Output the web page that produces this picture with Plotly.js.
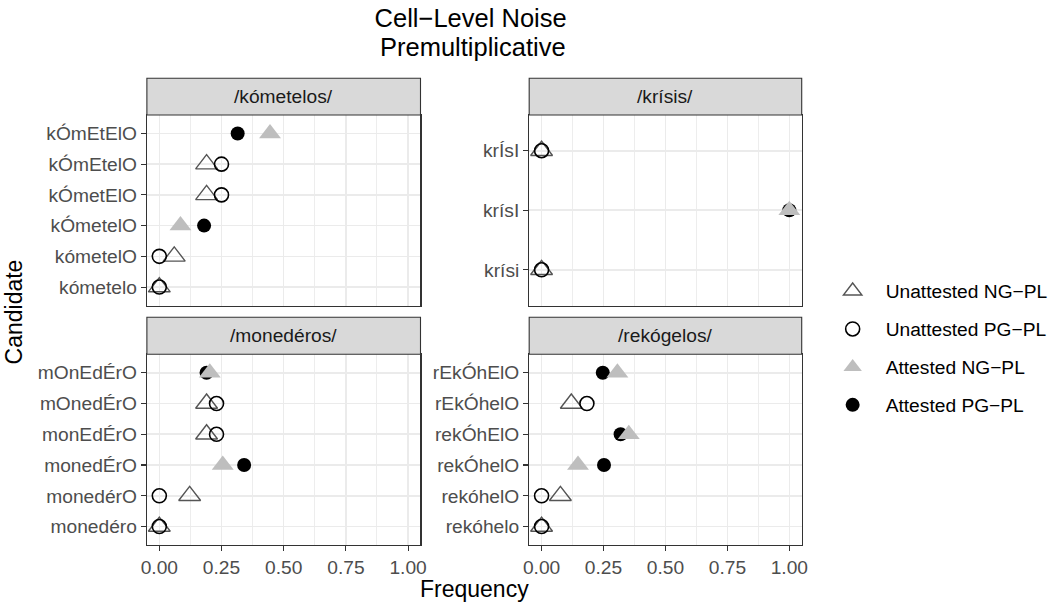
<!DOCTYPE html>
<html>
<head>
<meta charset="utf-8">
<script src="https://cdn.plot.ly/plotly-3.0.1.min.js"></script>
<style>html,body{margin:0;padding:0;background:#fff;}#chart{width:1053px;height:606px;}</style>
</head>
<body>
<div id="chart"></div>
<script>
// ---------- data (top-to-bottom order of candidates) ----------
const words = ['/kómetelos/', '/krísis/', '/monedéros/', '/rekógelos/'];

const kometelosCands = ['kÓmEtElO','kÓmEtelO','kÓmetElO','kÓmetelO','kómetelO','kómetelo'];
const kometelosUnattNG = [null, 0.19, 0.19, null, 0.06, 0];
const kometelosUnattPG = [null, 0.25, 0.25, null, 0, 0];
const kometelosAttNG   = [0.445, null, null, 0.085, null, null];
const kometelosAttPG   = [0.315, null, null, 0.18, null, null];

const krisisCands = ['krÍsI','krísI','krísi'];
const krisisUnattNG = [0, null, 0];
const krisisUnattPG = [0, null, 0];
const krisisAttNG   = [null, 1, null];
const krisisAttPG   = [null, 1, null];

const monederosCands = ['mOnEdÉrO','mOnedÉrO','monEdÉrO','monedÉrO','monedérO','monedéro'];
const monederosUnattNG = [null, 0.19, 0.19, null, 0.122, 0];
const monederosUnattPG = [null, 0.23, 0.23, null, 0, 0];
const monederosAttNG   = [0.203, null, null, 0.255, null, null];
const monederosAttPG   = [0.19, null, null, 0.341, null, null];

const rekogelosCands = ['rEkÓhElO','rEkÓhelO','rekÓhElO','rekÓhelO','rekóhelO','rekóhelo'];
const rekogelosUnattNG = [null, 0.12, null, null, 0.076, 0];
const rekogelosUnattPG = [null, 0.183, null, null, 0, 0];
const rekogelosAttNG   = [0.306, null, 0.352, 0.147, null, null];
const rekogelosAttPG   = [0.247, null, 0.319, 0.252, null, null];

const seriesNames = ['Unattested NG−PL', 'Unattested PG−PL', 'Attested NG−PL', 'Attested PG−PL'];
const xTickVals = [0, 0.25, 0.5, 0.75, 1];
const xTickText = ['0.00', '0.25', '0.50', '0.75', '1.00'];

// ---------- layout helpers ----------
const W = 1053, H = 606;
const px = x => x / W;
const py = y => 1 - y / H;
const FONT = '"Liberation Sans", Arial, Helvetica, sans-serif';
const TXT = 19.2;

const panels = [
  {cands: kometelosCands, vals: [kometelosUnattNG, kometelosUnattPG, kometelosAttNG, kometelosAttPG]},
  {cands: krisisCands,    vals: [krisisUnattNG, krisisUnattPG, krisisAttNG, krisisAttPG]},
  {cands: monederosCands, vals: [monederosUnattNG, monederosUnattPG, monederosAttNG, monederosAttPG]},
  {cands: rekogelosCands, vals: [rekogelosUnattNG, rekogelosUnattPG, rekogelosAttNG, rekogelosAttPG]}
];

// panel pixel boxes: [left, right, stripTop, top, bottom]
const boxes = [
  [147.3, 421.7, 78.3, 115, 305.5],
  [530.7, 804.0, 78.3, 115, 305.5],
  [147.3, 421.7, 317.3, 354.3, 545],
  [530.7, 804.0, 317.3, 354.3, 545]
];

const styles = [
  {symbol: 'triangle-up-open', color: '#555555', size: 19, line: {width: 1.4, color: '#555555'}, rank: 1},
  {symbol: 'circle-open',      color: '#000000', size: 14, line: {width: 1.6, color: '#000000'}, rank: 2},
  {symbol: 'triangle-up',      color: '#BEBEBE', size: 19, line: {width: 0}, rank: 3},
  {symbol: 'circle',           color: '#000000', size: 14, line: {width: 0}, rank: 4}
];
// drawing order: open triangle, open circle, filled circle, filled triangle
const drawOrder = [0, 1, 3, 2];

const traces = [];
panels.forEach((p, i) => {
  const ax = i === 0 ? '' : String(i + 1);
  drawOrder.forEach(s => {
    const st = styles[s];
    traces.push({
      type: 'scatter', mode: 'markers',
      x: p.vals[s], y: p.cands,
      xaxis: 'x' + ax, yaxis: 'y' + ax,
      name: seriesNames[s],
      legendgroup: seriesNames[s],
      legendrank: st.rank,
      showlegend: i === 0,
      marker: {symbol: st.symbol, color: st.color, size: st.size, line: st.line},
      hoverinfo: 'x+y+name'
    });
  });
});

const layout = {
  width: W, height: H,
  margin: {l: 0, r: 0, t: 0, b: 0},
  paper_bgcolor: '#ffffff', plot_bgcolor: '#ffffff',
  font: {family: FONT, size: TXT, color: '#000000'},
  title: {text: 'Cell−Level Noise', font: {family: FONT, size: 25.5, color: '#000000'},
          x: px(472), xanchor: 'center', xref: 'paper', y: py(18.5), yref: 'container', yanchor: 'middle'},
  showlegend: true,
  legend: {x: px(822), y: py(272), xanchor: 'left', yanchor: 'top',
           traceorder: 'grouped', tracegroupgap: 10, itemwidth: 56,
           bgcolor: 'rgba(0,0,0,0)', font: {family: FONT, size: TXT, color: '#000000'}},
  shapes: [], annotations: []
};

panels.forEach((p, i) => {
  const ax = i === 0 ? '' : String(i + 1);
  const b = boxes[i];
  const bottomRow = i >= 2;
  layout['xaxis' + ax] = {
    domain: [px(b[0]), px(b[1])],
    anchor: 'y' + ax,
    range: [-0.05, 1.05],
    tickvals: xTickVals, ticktext: xTickText,
    showticklabels: bottomRow,
    ticks: bottomRow ? 'outside' : '', ticklen: 5, tickwidth: 1.1, tickcolor: '#333333',
    tickfont: {family: FONT, size: TXT, color: '#4D4D4D'},
    showgrid: true, gridcolor: '#EBEBEB', gridwidth: 1.6,
    minor: {dtick: 0.125, tick0: 0, showgrid: true, gridcolor: '#EBEBEB', gridwidth: 0.9, ticks: ''},
    zeroline: false,
    showline: true, mirror: true, linecolor: '#333333', linewidth: 1.1,
    fixedrange: true
  };
  const n = p.cands.length;
  layout['yaxis' + ax] = {
    domain: [py(b[4]), py(b[3])],
    anchor: 'x' + ax,
    type: 'category',
    categoryorder: 'array',
    categoryarray: p.cands.slice().reverse(),
    range: [-0.6, n - 0.4],
    ticks: 'outside', ticklen: 5, tickwidth: 1.1, tickcolor: '#333333',
    tickfont: {family: FONT, size: TXT, color: '#4D4D4D'},
    showgrid: true, gridcolor: '#EBEBEB', gridwidth: 1.6,
    zeroline: false,
    showline: true, mirror: true, linecolor: '#333333', linewidth: 1.1,
    fixedrange: true
  };
  // strip
  layout.shapes.push({type: 'rect', xref: 'paper', yref: 'paper',
    x0: px(b[0]), x1: px(b[1]), y0: py(b[3]), y1: py(b[2]),
    fillcolor: '#D9D9D9', line: {color: '#333333', width: 1.1}, layer: 'above'});
  layout.annotations.push({xref: 'paper', yref: 'paper', x: px((b[0] + b[1]) / 2), y: py((b[2] + b[3]) / 2),
    xanchor: 'center', yanchor: 'middle', showarrow: false, text: words[i],
    font: {family: FONT, size: TXT, color: '#1A1A1A'}});
});

// second title line
layout.annotations.push({xref: 'paper', yref: 'paper', x: px(474), y: py(47), xanchor: 'center', yanchor: 'middle',
  showarrow: false, text: 'Premultiplicative', font: {family: FONT, size: 25.5, color: '#000000'}});
// axis titles
layout.annotations.push({xref: 'paper', yref: 'paper', x: px(475.5), y: py(589), xanchor: 'center', yanchor: 'middle',
  showarrow: false, text: 'Frequency', font: {family: FONT, size: 23, color: '#000000'}});
layout.annotations.push({xref: 'paper', yref: 'paper', x: px(14), y: py(311.5), xanchor: 'center', yanchor: 'middle',
  showarrow: false, text: 'Candidate', textangle: -90, font: {family: FONT, size: 23, color: '#000000'}});

Plotly.newPlot('chart', traces, layout, {displayModeBar: false, staticPlot: true});
</script>
</body>
</html>
